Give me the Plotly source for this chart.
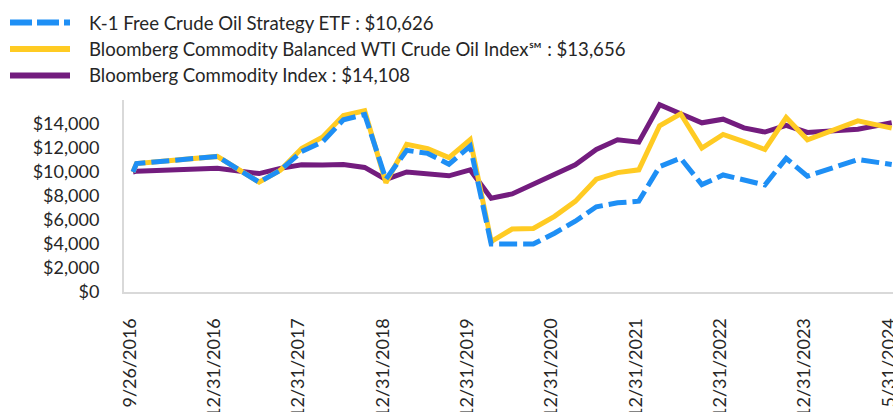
import numpy as np
import pandas as pd
import plotly.graph_objects as go

# ---------------- data ----------------
dates = ["2016-09-26", "2016-09-30", "2016-12-31",
         "2017-03-31", "2017-06-30", "2017-09-30", "2017-12-31",
         "2018-03-31", "2018-06-30", "2018-09-30", "2018-12-31",
         "2019-03-31", "2019-06-30", "2019-09-30", "2019-12-31",
         "2020-03-31", "2020-06-30", "2020-09-30", "2020-12-31",
         "2021-03-31", "2021-06-30", "2021-09-30", "2021-12-31",
         "2022-03-31", "2022-06-30", "2022-09-30", "2022-12-31",
         "2023-03-31", "2023-06-30", "2023-09-30", "2023-12-31",
         "2024-03-31", "2024-05-31"]

etf = [10000, 10700, 11300, 10220, 9150, 10150, 11700,
       12500, 14350, 14800, 9400,
       11800, 11550, 10650, 12150,
       4000, 3980, 4000, 4900,
       5900, 7100, 7430, 7570,
       10450, 11150, 8950, 9750,
       9350, 8920, 11140, 9650,
       11040, 10626]

wti_index = [10000, 10700, 11300, 10220, 9150, 10150, 11950,
             12900, 14700, 15100, 9100,
             12300, 11950, 11200, 12700,
             4200, 5250, 5300, 6300,
             7550, 9400, 9950, 10180,
             13850, 14850, 12000, 13125,
             12530, 11875, 14540, 12680,
             14260, 13656]

bcom = [10000, 10070, 10320, 10070, 9870, 10300, 10600,
        10580, 10620, 10380, 9380,
        10000, 9860, 9680, 10170,
        7820, 8170, 8960, 9860,
        10600, 11875, 12680, 12490,
        15600, 14850, 14100, 14400,
        13680, 13330, 13890, 13300,
        13570, 14108]

tick_dates = ["2016-09-26", "2016-12-31", "2017-12-31", "2018-12-31", "2019-12-31",
              "2020-12-31", "2021-12-31", "2022-12-31", "2023-12-31", "2024-05-31"]
tick_labels = ["9/26/2016", "12/31/2016", "12/31/2017", "12/31/2018", "12/31/2019",
               "12/31/2020", "12/31/2021", "12/31/2022", "12/31/2023", "5/31/2024"]

y_ticks = [0, 2000, 4000, 6000, 8000, 10000, 12000, 14000]

names = ["K-1 Free Crude Oil Strategy ETF",
         "Bloomberg Commodity Balanced WTI Crude Oil Index\u2120",
         "Bloomberg Commodity Index"]

# ---------------- scale: equal spacing between labelled dates ----------------
def to_ord(ds):
    return np.array([pd.Timestamp(d).toordinal() for d in ds], dtype=float)

tick_pos = np.arange(len(tick_dates), dtype=float)
x_pos = np.interp(to_ord(dates), to_ord(tick_dates), tick_pos)

BLUE = "#1E8FF5"
GOLD = "#FFCB23"
PURPLE = "#731C7E"
TEXT = "#262626"
FONT = "Lato, 'Noto Sans', sans-serif"
FS = 18
FS_LEG = 18.6

W, H = 893, 412
ML, MR, MT, MB = 124, 0, 100, 120
PW, PH = W - ML - MR, H - MT - MB

fig = go.Figure()
fig.add_trace(go.Scatter(x=x_pos, y=bcom, mode="lines", name=names[2],
                         line=dict(color=PURPLE, width=5), showlegend=False))
fig.add_trace(go.Scatter(x=x_pos, y=wti_index, mode="lines", name=names[1],
                         line=dict(color=GOLD, width=5), showlegend=False))
fig.add_trace(go.Scatter(x=x_pos, y=etf, mode="lines", name=names[0],
                         line=dict(color=BLUE, width=5, dash="18px,6px"), showlegend=False))

# ---------------- manual legend ----------------
def px2paper_x(px):
    return (px - ML) / PW

def px2paper_y(py):
    return (H - MB - py) / PH

legend_rows = [
    (names[0], etf[-1], BLUE, "22px,5px", 22.5),
    (names[1], wti_index[-1], GOLD, "solid", 49),
    (names[2], bcom[-1], PURPLE, "solid", 75.5),
]
for name, last, color, dash, py in legend_rows:
    fig.add_shape(type="line", xref="paper", yref="paper",
                  x0=px2paper_x(10), x1=px2paper_x(70),
                  y0=px2paper_y(py), y1=px2paper_y(py),
                  line=dict(color=color, width=6, dash=dash))
    fig.add_annotation(xref="paper", yref="paper", x=px2paper_x(87), y=px2paper_y(py),
                       xanchor="left", yanchor="middle", showarrow=False,
                       text=f"{name} : ${last:,}",
                       font=dict(family=FONT, size=FS_LEG, color=TEXT))

unit = 84.3
fig.update_layout(
    width=W, height=H,
    margin=dict(l=ML, r=MR, t=MT, b=MB, pad=0),
    paper_bgcolor="white", plot_bgcolor="white",
    showlegend=False,
    font=dict(family=FONT, size=FS, color=TEXT),
    xaxis=dict(range=[(ML - 133) / unit, (W - MR - 133) / unit],
               tickvals=tick_pos, ticktext=tick_labels, tickangle=-90,
               showgrid=False, zeroline=False, showline=True,
               linecolor="#D9D9D9", linewidth=2, ticks="",
               ticklabelstandoff=17, ticklabelshift=-3, automargin=False,
               ticklabeloverflow="allow",
               tickfont=dict(family=FONT, size=FS, color=TEXT)),
    yaxis=dict(range=[0, 16000], tickvals=y_ticks,
               ticktext=[f"${v:,}" for v in y_ticks],
               showgrid=False, zeroline=False, showline=True,
               linecolor="#D9D9D9", linewidth=2, ticks="",
               ticklabelstandoff=19, automargin=False,
               tickfont=dict(family=FONT, size=FS, color=TEXT)),
)

fig.write_html("out.html",
               config={"displayModeBar": False},
               post_script="document.body.style.margin='0';"
                           "document.body.style.overflow='hidden';")
